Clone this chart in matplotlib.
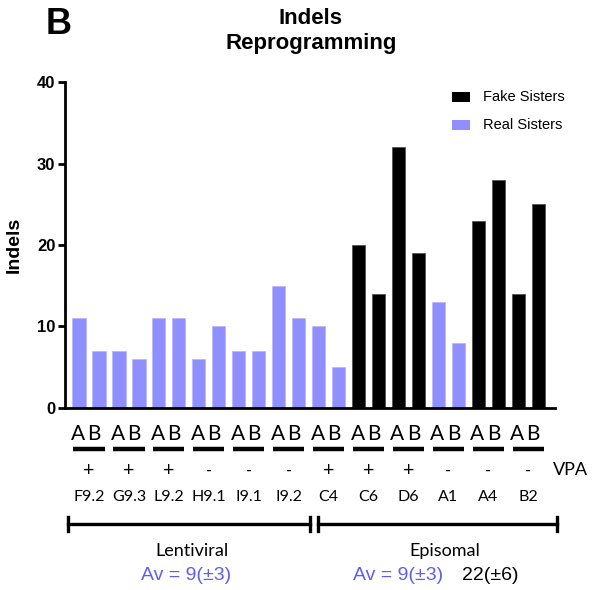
import matplotlib.pyplot as plt
import matplotlib.transforms as mtransforms
from matplotlib.patches import Rectangle

# data
samples = ['F9.2', 'G9.3', 'L9.2', 'H9.1', 'I9.1', 'I9.2', 'C4', 'C6', 'D6', 'A1', 'A4', 'B2']
vpa = ['+', '+', '+', '-', '-', '-', '+', '+', '+', '-', '-', '-']
indels_a = [11, 7, 11, 6, 7, 15, 10, 20, 32, 13, 23, 14]
indels_b = [7, 6, 11, 10, 7, 11, 5, 14, 19, 8, 28, 25]
is_fake = [False, False, False, False, False, False, False, True, True, False, True, True]

BLUE = '#8f8fff'
TXT_BLUE = '#5f5fee'
ARIAL = 'Liberation Sans'
LAB_FONT = 'Lato'

plt.rcParams['font.family'] = ARIAL

fig = plt.figure(figsize=(5.97, 5.90), dpi=100)
ax = fig.add_axes([0.109, 0.3085, 0.821, 0.5525])

# one bar per sister, evenly spaced
xs, heights, colors, edges = [], [], [], []
for k, (a, b, fake) in enumerate(zip(indels_a, indels_b, is_fake)):
    for j, v in enumerate((a, b)):
        xs.append(2 * k + j)
        heights.append(v)
        colors.append('black' if fake else BLUE)
        edges.append('#555555' if fake else '#b8b8ff')
ax.bar(xs, heights, width=0.66, color=colors, edgecolor=edges, linewidth=0.6, zorder=2)

ax.set_xlim(-0.7, 23.85)
ax.set_ylim(0, 40)
ax.set_yticks([0, 10, 20, 30, 40])
ax.set_xticks([])
for lab in ax.get_yticklabels():
    lab.set_fontweight('bold')
ax.tick_params(axis='y', labelsize=12, width=2, length=5, direction='out', pad=2)
for s in ['top', 'right']:
    ax.spines[s].set_visible(False)
ax.spines['left'].set_linewidth(2)
ax.spines['bottom'].set_linewidth(2)
ax.set_ylabel('Indels', fontsize=14, fontweight='bold', labelpad=10)


def fy(px):
    return 1 - px / 590


# legend drawn by hand at the reference position
for (label, col, ypx) in [('Fake Sisters', 'black', 97), ('Real Sisters', BLUE, 125)]:
    fig.add_artist(Rectangle((452 / 597, fy(ypx + 5)), 18 / 597, 10 / 590,
                             facecolor=col, edgecolor='none', transform=fig.transFigure))
    fig.text(483 / 597, fy(ypx), label, ha='left', va='center', fontsize=10.5)

fig.text(311 / 597, fy(19), 'Indels', ha='center', va='center', fontsize=16, fontweight='bold')
fig.text(311 / 597, fy(44), 'Reprogramming', ha='center', va='center', fontsize=16, fontweight='bold')
fig.text(59 / 597, fy(24), 'B', ha='center', va='center', fontsize=26, fontweight='bold')

# labels below the axis: data x, figure y
trans = mtransforms.blended_transform_factory(ax.transData, fig.transFigure)

for k, name in enumerate(samples):
    c = 2 * k + 0.5
    ax.text(2 * k - 0.05, fy(434), 'A', transform=trans, ha='center', va='center', fontsize=15,
            family=LAB_FONT)
    ax.text(2 * k + 0.75, fy(434), 'B', transform=trans, ha='center', va='center', fontsize=15,
            family=LAB_FONT)
    ax.plot([c - 0.78, c + 0.78], [fy(449), fy(449)], transform=trans, color='black',
            lw=3.2, solid_capstyle='butt', clip_on=False)
    ax.text(c, fy(471), vpa[k], transform=trans, ha='center', va='center',
            fontsize=14 if vpa[k] == '+' else 12, family=LAB_FONT)
    ax.text(c, fy(497), name, transform=trans, ha='center', va='center', fontsize=11.5,
            family=LAB_FONT)

fig.text(570 / 597, fy(470), 'VPA', ha='center', va='center', fontsize=13, family=LAB_FONT)


# lentiviral / episomal brackets
def bracket(x0, x1):
    y = fy(524)
    fig.add_artist(plt.Line2D([x0 / 597, x1 / 597], [y, y], color='black', lw=2.4))
    for x in (x0, x1):
        fig.add_artist(plt.Line2D([x / 597, x / 597], [fy(517), fy(531)], color='black', lw=2.4))


bracket(68, 310)
bracket(318, 557)

fig.text(192 / 597, fy(551), 'Lentiviral', ha='center', va='center', fontsize=13, family=LAB_FONT)
fig.text(445 / 597, fy(551), 'Episomal', ha='center', va='center', fontsize=13, family=LAB_FONT)
fig.text(186 / 597, fy(575), 'Av = 9(±3)', ha='center', va='center', fontsize=14, color=TXT_BLUE)
fig.text(398 / 597, fy(575), 'Av = 9(±3)', ha='center', va='center', fontsize=14, color=TXT_BLUE)
fig.text(490 / 597, fy(575), '22(±6)', ha='center', va='center', fontsize=14, color='black')

fig.savefig('out.png', dpi=100)
